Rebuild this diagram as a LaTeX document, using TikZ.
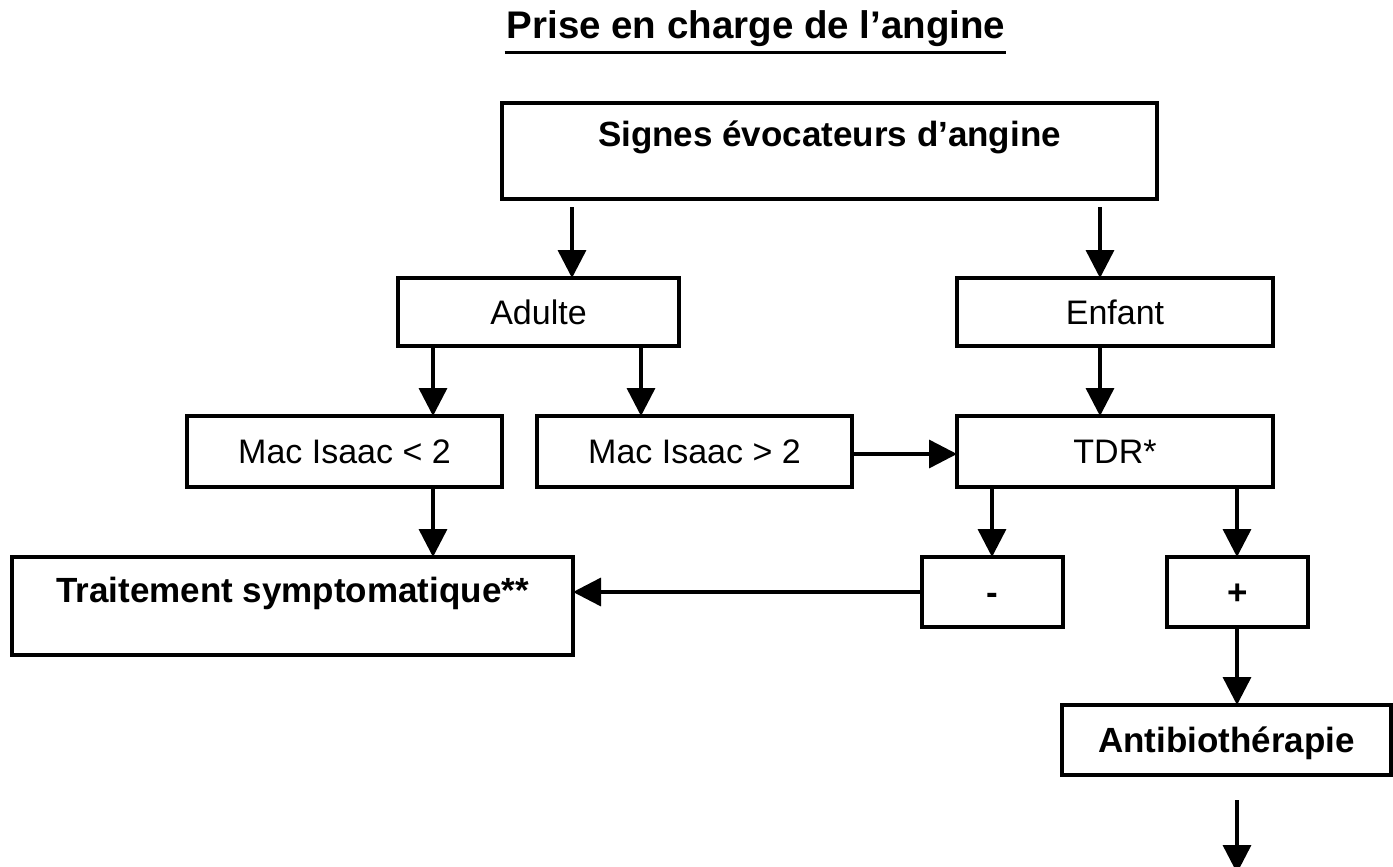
\documentclass[tikz,border=0pt]{standalone}
\usepackage{fontspec}
\setmainfont{Liberation Sans}
\usetikzlibrary{arrows.meta,calc}
\begin{document}
\begin{tikzpicture}[x=1pt,y=-1pt,
  box/.style={draw, line width=3.5pt, inner sep=0pt, outer sep=0pt,
    font=\fontsize{34}{40}\selectfont, text height=24pt, text depth=0pt},
  bbox/.style={box, font=\fontsize{35}{41}\selectfont\bfseries},
  arr/.style={line width=3.5pt, -{Triangle[length=28pt,width=28pt]}}]
\useasboundingbox (0,0) rectangle (1393,867);
\fill[white] (0,0) rectangle (1393,867);
\clip (0,0) rectangle (1393,867);
% title
\node[font=\fontsize{38.5}{44}\selectfont\bfseries, inner sep=0pt, anchor=base] (title) at (756,39) {Prise en charge de l’angine};
\draw[line width=3pt] ($(title.base west)+(-2,14)$) -- ($(title.base east)+(1,14)$);
% boxes
\node[bbox, minimum width=655pt, minimum height=96pt, text depth=33pt] (top) at (829.5,151) {Signes évocateurs d’angine};
\node[box, minimum width=281pt, minimum height=68pt] (adulte) at (538.5,312) {Adulte};
\node[box, minimum width=316pt, minimum height=68pt] (enfant) at (1115,312) {Enfant};
\node[box, minimum width=315pt, minimum height=71pt] (mac1) at (344.5,451.5) {Mac Isaac < 2};
\node[box, minimum width=315pt, minimum height=71pt] (mac2) at (694.5,451.5) {Mac Isaac > 2};
\node[box, minimum width=316pt, minimum height=71pt] (tdr) at (1115,451.5) {TDR*};
\node[bbox, minimum width=561pt, minimum height=98pt, text depth=32pt] (trait) at (292.5,606) {Traitement symptomatique**};
\node[bbox, minimum width=141pt, minimum height=70pt] (moins) at (992.5,592) {-};
\node[bbox, minimum width=141pt, minimum height=70pt] (plus) at (1237.5,592) {+};
\node[bbox, minimum width=329pt, minimum height=70pt] (antibio) at (1226.5,740) {Antibiothérapie};
% helper coordinates
\coordinate (xL) at (572,0);
\coordinate (xR) at (1100,0);
\coordinate (xA1) at (433,0);
\coordinate (xA2) at (641,0);
\coordinate (xM) at (992,0);
\coordinate (xP) at (1237,0);
\coordinate (yT) at (0,454);
\coordinate (fin) at (1237,873);
% connectors
\draw[arr] ($(xL |- top.south)+(0,8)$) -- (xL |- adulte.north);
\draw[arr] ($(xR |- top.south)+(0,8)$) -- (xR |- enfant.north);
\draw[arr] (xA1 |- adulte.south) -- (xA1 |- mac1.north);
\draw[arr] (xA2 |- adulte.south) -- (xA2 |- mac2.north);
\draw[arr] (xR |- enfant.south) -- (xR |- tdr.north);
\draw[arr] (mac2.east |- yT) -- (tdr.west |- yT);
\draw[arr] (xA1 |- mac1.south) -- (xA1 |- trait.north);
\draw[arr] (xM |- tdr.south) -- (xM |- moins.north);
\draw[arr] (xP |- tdr.south) -- (xP |- plus.north);
\draw[arr] (moins.west) -- (trait.east |- moins.west);
\draw[arr] (xP |- plus.south) -- (xP |- antibio.north);
\draw[arr] ($(xP |- antibio.south)+(0,25)$) -- (fin);
\end{tikzpicture}
\end{document}
